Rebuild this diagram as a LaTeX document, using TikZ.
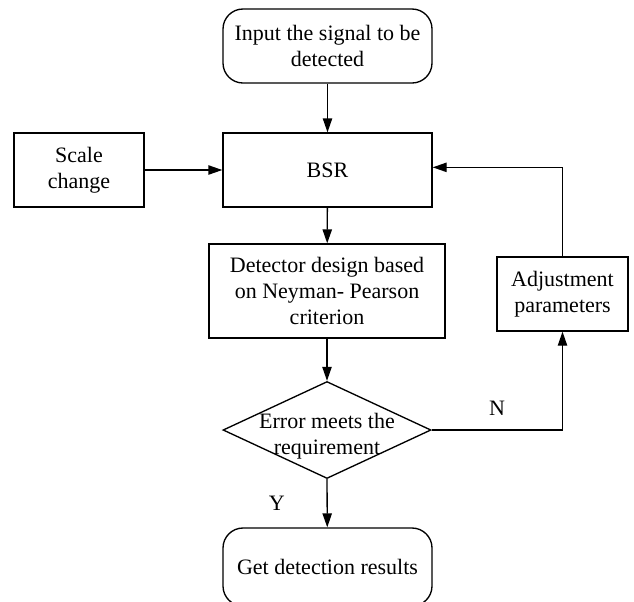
\documentclass[tikz,border=0pt]{standalone}
\usepackage{fontspec}
\setmainfont{Liberation Serif}
\usepackage{tikz}
\usetikzlibrary{shapes.geometric,arrows.meta,positioning}

\begin{document}
\begin{tikzpicture}[
  x=0.75pt,y=-0.75pt,
  font=\fontsize{16.5}{19.5}\selectfont,>={Triangle[length=10.5pt,width=7pt]},
  term/.style={draw,line width=1pt,rounded corners=15pt,
               minimum width=156.75pt,minimum height=55.5pt,align=center},
  proc/.style={draw,line width=1pt,
               minimum height=55.5pt,align=center},
  decide/.style={draw,line width=1pt,diamond,inner sep=0pt,aspect=2.14,
                 minimum width=156pt,minimum height=72.75pt},
  fl/.style={->,line width=1pt}
]
\clip (0,0) rectangle (634,601);

\node[term]                           (in)    at (327.5,46)  {Input the signal to be\\detected};
\node[proc,minimum width=156.75pt]    (bsr)   at (327.5,170) {BSR};
\node[proc,minimum width=97.5pt]      (scale) at (79,170)    {Scale\\change};
\node[proc,minimum width=177pt,minimum height=70.5pt] (det) at (327,291) {Detector design based\\on Neyman- Pearson\\criterion};
\node[proc,minimum width=98.25pt]     (adj)   at (562.5,294) {Adjustment\\parameters};
\node[decide,label={[align=center,yshift=-5pt]center:Error meets the\\requirement}] (dec) at (327,430) {};
\node[term,minimum height=58.5pt]     (res)   at (327.5,567) {Get detection results};

\draw[fl] (in)    -- (bsr);
\draw[fl] (scale) -- (bsr);
\draw[fl] (bsr)   -- (det);
\draw[fl] (det)   -- (dec);
\draw[fl] (dec.south) -- node[pos=0.5,left=28pt]{Y} (res);

% N branch: adjust and feed back into BSR
\draw[fl] (dec.east) -- node[pos=0.5,above=7pt]{N} (dec.east -| adj.south) -- (adj.south);
\draw[fl] (adj.north) |- ([yshift=2pt]bsr.east);
\end{tikzpicture}
\end{document}
